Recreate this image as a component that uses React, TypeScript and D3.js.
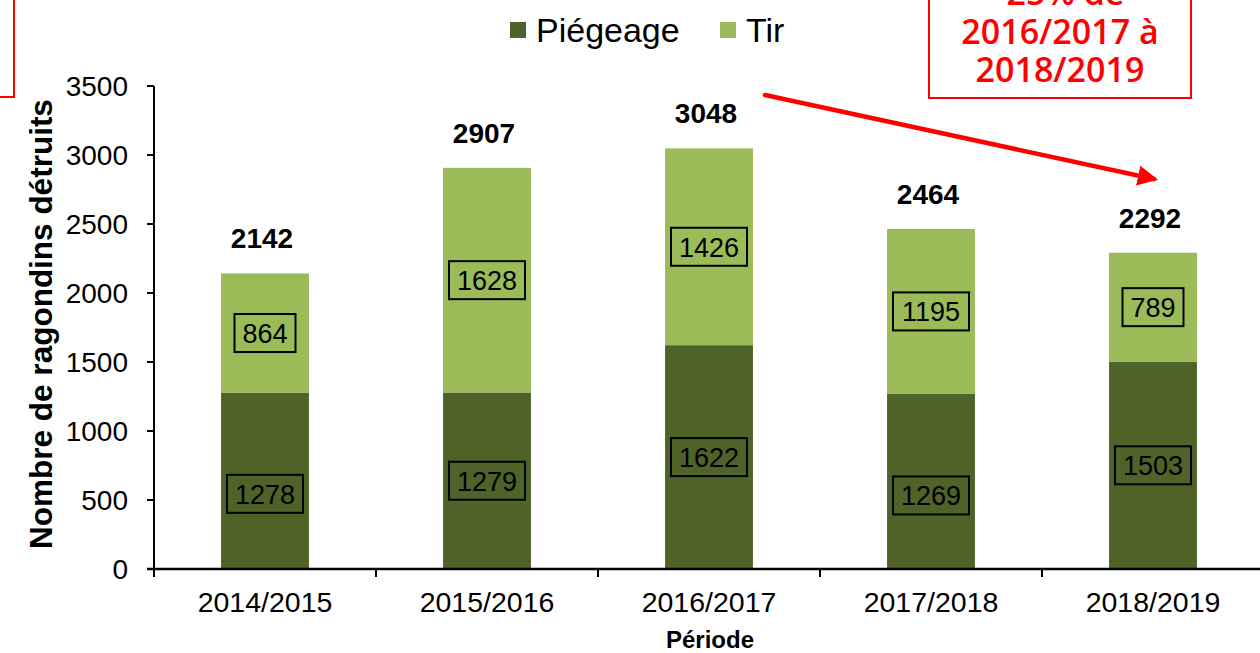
import React, { useEffect, useRef } from 'react';
import * as d3 from 'd3';

// données
const periodes = ['2014/2015', '2015/2016', '2016/2017', '2017/2018', '2018/2019'];
const piegeage = [1278, 1279, 1622, 1269, 1503];
const tir = [864, 1628, 1426, 1195, 789];
const yTicks = [0, 500, 1000, 1500, 2000, 2500, 3000, 3500];
const noteLines = ['-25% de', '2016/2017 à', '2018/2019'];
// décalage vertical manuel de quelques étiquettes (comme dans l'original)
const piegeageLabelShift = [13, 0, 0, 14, 0];

const W = 1260;
const H = 653;
const DARK = '#4f6228';
const LIGHT = '#9bbb59';
const RED = '#ff0000';
const FONT = '"Liberation Sans", Arial, sans-serif';

function App() {
  const svgRef = useRef<SVGSVGElement>(null);

  useEffect(() => {
    const svg = d3.select(svgRef.current);
    svg.selectAll('*').remove();

    const y = d3.scaleLinear().domain([0, 3500]).range([569, 86]);
    const x = d3.scaleBand<string>()
      .domain(periodes)
      .range([154, 1264])
      .paddingInner(0.604)
      .paddingOuter(0.302);
    const step = x.step();

    // barres empilées
    const rows = periodes.map((p, i) => ({ p, a: piegeage[i], b: tir[i], i }));
    const stack = d3.stack<any>().keys(['a', 'b'])(rows);
    const colors = [DARK, LIGHT];

    stack.forEach((serie, k) => {
      svg.append('g').selectAll('rect')
        .data(serie)
        .enter().append('rect')
        .attr('x', d => x(d.data.p)!)
        .attr('width', x.bandwidth())
        .attr('y', d => y(d[1]))
        .attr('height', d => y(d[0]) - y(d[1]))
        .attr('fill', colors[k]);
    });

    // étiquettes encadrées dans les segments
    stack.forEach((serie, k) => {
      serie.forEach((d, i) => {
        const val = k === 0 ? piegeage[i] : tir[i];
        const cx = x(d.data.p)! + x.bandwidth() / 2;
        const cy = (y(d[0]) + y(d[1])) / 2 + (k === 0 ? piegeageLabelShift[i] : 0);
        const txt = String(val);
        const bw = txt.length * 15 + 16;
        const bh = 38;
        svg.append('rect')
          .attr('x', cx - bw / 2)
          .attr('y', cy - bh / 2)
          .attr('width', bw)
          .attr('height', bh)
          .attr('fill', 'none')
          .attr('stroke', '#000')
          .attr('stroke-width', 2);
        svg.append('text')
          .attr('x', cx)
          .attr('y', cy + 10)
          .attr('text-anchor', 'middle')
          .style('font-family', FONT)
          .style('font-size', '27px')
          .attr('fill', '#000')
          .text(txt);
      });
    });

    // totaux
    svg.append('g').selectAll('text')
      .data(rows)
      .enter().append('text')
      .attr('x', d => x(d.p)! + x.bandwidth() / 2 - 3)
      .attr('y', d => y(d.a + d.b) - 25)
      .attr('text-anchor', 'middle')
      .style('font-family', FONT)
      .style('font-size', '28px')
      .style('font-weight', 'bold')
      .text(d => d.a + d.b);

    // axe Y
    svg.append('line')
      .attr('x1', 154).attr('x2', 154)
      .attr('y1', y(3500)).attr('y2', y(0) + 1)
      .attr('stroke', '#000').attr('stroke-width', 2);
    yTicks.forEach(t => {
      svg.append('line')
        .attr('x1', 147).attr('x2', 154)
        .attr('y1', y(t)).attr('y2', y(t))
        .attr('stroke', '#000').attr('stroke-width', 2);
      svg.append('text')
        .attr('x', 128)
        .attr('y', y(t) + 10)
        .attr('text-anchor', 'end')
        .style('font-family', FONT)
        .style('font-size', '28px')
        .attr('fill', '#000')
        .text(t);
    });

    // axe X
    svg.append('line')
      .attr('x1', 147).attr('x2', 1264)
      .attr('y1', y(0)).attr('y2', y(0))
      .attr('stroke', '#000').attr('stroke-width', 2.5);
    periodes.forEach(p => {
      const bx = x(p)! - (step - x.bandwidth()) / 2;
      svg.append('line')
        .attr('x1', bx).attr('x2', bx)
        .attr('y1', y(0)).attr('y2', y(0) + 8)
        .attr('stroke', '#000').attr('stroke-width', 2);
      svg.append('text')
        .attr('x', x(p)! + x.bandwidth() / 2)
        .attr('y', 612)
        .attr('text-anchor', 'middle')
        .style('font-family', FONT)
        .style('font-size', '28.5px')
        .attr('fill', '#000')
        .text(p);
    });

    // titres des axes
    svg.append('text')
      .attr('transform', 'translate(52,324) rotate(-90)')
      .attr('text-anchor', 'middle')
      .style('font-family', FONT)
      .style('font-size', '31.5px')
      .style('font-weight', 'bold')
      .text('Nombre de ragondins détruits');
    svg.append('text')
      .attr('x', 710)
      .attr('y', 648)
      .attr('text-anchor', 'middle')
      .style('font-family', FONT)
      .style('font-size', '24px')
      .style('font-weight', 'bold')
      .text('Période');

    // légende
    const leg = [
      { name: 'Piégeage', color: DARK, x: 510 },
      { name: 'Tir', color: LIGHT, x: 720 },
    ];
    leg.forEach(l => {
      svg.append('rect')
        .attr('x', l.x).attr('y', 22)
        .attr('width', 16).attr('height', 16)
        .attr('fill', l.color);
      svg.append('text')
        .attr('x', l.x + 26)
        .attr('y', 42)
        .style('font-family', FONT)
        .style('font-size', '34px')
        .attr('fill', '#000')
        .text(l.name);
    });

    // encadrés rouges
    svg.append('rect')
      .attr('x', -20).attr('y', -20)
      .attr('width', 34).attr('height', 117)
      .attr('fill', 'none')
      .attr('stroke', RED).attr('stroke-width', 2);
    svg.append('rect')
      .attr('x', 929).attr('y', -30)
      .attr('width', 262).attr('height', 128)
      .attr('fill', '#fff')
      .attr('stroke', RED).attr('stroke-width', 2);
    noteLines.forEach((l, i) => {
      svg.append('text')
        .attr('x', 1060)
        .attr('y', 5 + i * 38.5)
        .attr('text-anchor', 'middle')
        .style('font-family', '"Open Sans", sans-serif')
        .style('font-size', '34px')
        .style('font-weight', 600)
        .attr('fill', RED)
        .text(l);
    });

    // flèche
    svg.append('defs').append('marker')
      .attr('id', 'arrow')
      .attr('viewBox', '0 0 10 10')
      .attr('refX', 8).attr('refY', 5)
      .attr('markerWidth', 4.5).attr('markerHeight', 4.5)
      .attr('orient', 'auto')
      .append('path')
      .attr('d', 'M0,0 L10,5 L0,10 z')
      .attr('fill', RED);
    svg.append('line')
      .attr('x1', 765).attr('y1', 95)
      .attr('x2', 1154).attr('y2', 179)
      .attr('stroke', RED)
      .attr('stroke-width', 4.5)
      .attr('stroke-linecap', 'round')
      .attr('marker-end', 'url(#arrow)');
  }, []);

  return (
    <svg
      ref={svgRef}
      width={W}
      height={H}
      style={{ position: 'absolute', left: 0, top: 0, background: '#fff' }}
    ></svg>
  );
}

export default App;
